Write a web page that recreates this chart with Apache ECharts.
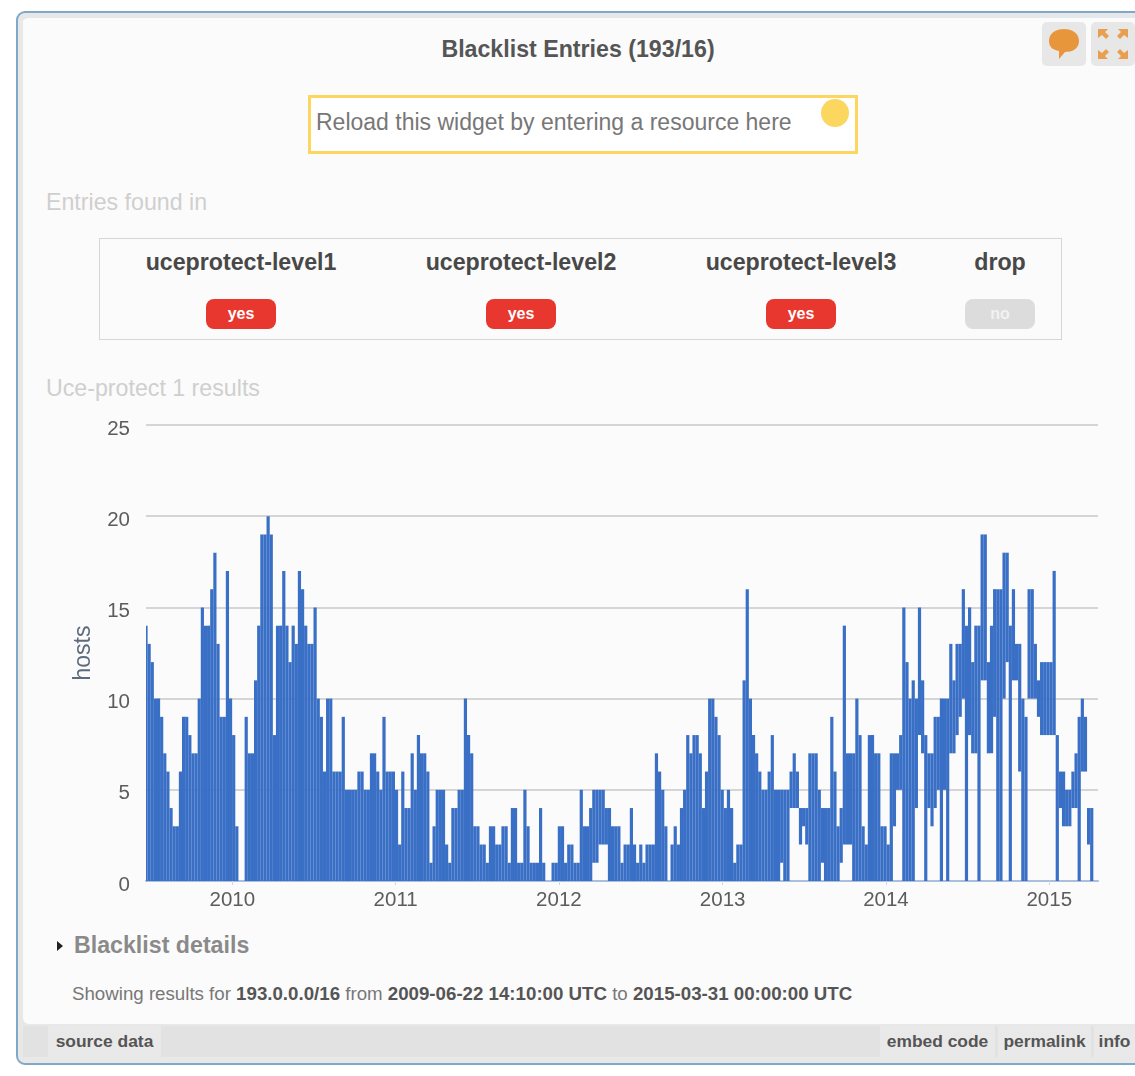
<!DOCTYPE html>
<html>
<head>
<meta charset="utf-8">
<title>Blacklist Entries</title>
<script src="https://cdn.jsdelivr.net/npm/echarts@6/dist/echarts.min.js"></script>
<style>
html, body { margin: 0; padding: 0; background: #fff; }
body { width: 1135px; height: 1076px; position: relative; overflow: hidden; font-family: "Liberation Sans", Arial, sans-serif; }
.abs { position: absolute; white-space: nowrap; line-height: 1; }
#frame { position: absolute; left: 16px; top: 11px; width: 1140px; height: 1050px; border: 2px solid #7fa9c6; border-radius: 9px; background: #e8e8e8; }
#panel { position: absolute; left: 23px; top: 15px; width: 1130px; height: 1006px; background: #fbfbfb; border-radius: 6px; border-top: 3px solid #e4e8ea; }
#footer { position: absolute; left: 23px; top: 1026px; width: 1130px; height: 31px; background: #e2e2e2; }
.btn { position: absolute; top: 1026px; height: 31px; background: #e9e9e9; color: #555; font-weight: bold; font-size: 17.4px; line-height: 31px; text-align: center; }
.iconbtn { position: absolute; top: 22px; height: 44px; background: #e7e7e7; border-radius: 5px; }
#input { position: absolute; left: 308px; top: 95px; width: 544px; height: 53px; border: 3px solid #fcd65f; background: #fff; }
#knob { position: absolute; left: 821px; top: 99px; width: 28px; height: 28px; border-radius: 50%; background: #fbd760; }
#tbl { position: absolute; left: 99px; top: 238px; width: 961px; height: 100px; border: 1.5px solid #d6d6d6; }
.name { font-size: 23.2px; font-weight: bold; color: #484848; transform: translateX(-50%); top: 251px; }
.badge { position: absolute; top: 299px; width: 70px; height: 30px; line-height: 29px; border-radius: 8px; text-align: center; font-weight: bold; font-size: 16px; color: #fff; transform: translateX(-50%); }
.muted { color: #cfcfcf; font-size: 23.2px; left: 46px; }
#chart { position: absolute; left: 0; top: 400px; width: 1135px; height: 520px; }
</style>
</head>
<body>
<div id="frame"></div>
<div id="panel"></div>
<div id="footer"></div>

<div class="abs" style="left:578px;top:38px;transform:translateX(-50%);font-size:23.2px;font-weight:bold;color:#555">Blacklist Entries (193/16)</div>

<div class="iconbtn" style="left:1042px;width:44px">
  <svg width="44" height="44"><path d="M7 19 C7 11 14 7 22 7 C30 7 37 11 37 19 C37 27 30 30 23 30 L17 37 L17 29 C11 28 7 25 7 19Z" fill="#e8963c"/></svg>
</div>
<div class="iconbtn" style="left:1091px;width:44px">
  <svg width="44" height="44" fill="#e8a050"><path d="M7 7h10l-3 3 4 4-3 3-4-4-4 3zM37 7h-10l3 3-4 4 3 3 4-4 4 3zM7 37h10l-3-3 4-4-3-3-4 4-4-3zM37 37h-10l3-3-4-4 3-3 4 4 4-3z"/></svg>
</div>

<div id="input"></div>
<div id="knob"></div>
<div class="abs" style="left:316px;top:111px;font-size:23px;color:#777">Reload this widget by entering a resource here</div>

<div class="abs muted" style="top:191px">Entries found in</div>
<div id="tbl"></div>
<div class="abs name" style="left:241px">uceprotect-level1</div>
<div class="abs name" style="left:521px">uceprotect-level2</div>
<div class="abs name" style="left:801px">uceprotect-level3</div>
<div class="abs name" style="left:1000px">drop</div>
<div class="badge" style="left:241px;background:#e8372e">yes</div>
<div class="badge" style="left:521px;background:#e8372e">yes</div>
<div class="badge" style="left:801px;background:#e8372e">yes</div>
<div class="badge" style="left:1000px;background:#dcdcdc;color:#f2f2f2">no</div>

<div class="abs muted" style="top:377px">Uce-protect 1 results</div>

<div id="chart"></div>

<div class="abs" style="left:57px;top:941px;width:0;height:0;border-left:6px solid #222;border-top:5px solid transparent;border-bottom:5px solid transparent"></div>
<div class="abs" style="left:74px;top:934px;font-size:23.2px;font-weight:bold;color:#8a8a8a">Blacklist details</div>
<div class="abs" style="left:72px;top:985px;font-size:18.7px;color:#777">Showing results for <b style="color:#555">193.0.0.0/16</b> from <b style="color:#555">2009-06-22 14:10:00 UTC</b> to <b style="color:#555">2015-03-31 00:00:00 UTC</b></div>

<div class="btn" style="left:48px;width:113px">source data</div>
<div class="btn" style="left:880px;width:115px">embed code</div>
<div class="btn" style="left:998px;width:93px">permalink</div>
<div class="btn" style="left:1094px;width:41px">info</div>

<script>
// weekly samples: top of each week's range and its bottom
const firstWeek = "2009-06-22";
const axisStart = "2009-06-22";
const axisEnd = "2015-04-20";
const yearTicks = ["2010-01-01", "2011-01-01", "2012-01-01", "2013-01-01", "2014-01-01", "2015-01-01"];

const highs = [
    14, 13, 12, 10, 10, 9, 7, 6, 4, 3, 3, 6, 9, 9, 8, 7, 7, 10, 15, 14,
    14, 16, 18, 13, 9, 9, 17, 10, 8, 3, 0, 0, 9, 7, 7, 11, 14, 19, 19, 20,
    19, 8, 14, 14, 17, 14, 12, 14, 13, 17, 16, 14, 13, 13, 15, 10, 9, 6, 10, 10,
    6, 6, 6, 9, 5, 5, 5, 5, 6, 6, 5, 5, 7, 7, 6, 5, 9, 6, 6, 6,
    5, 2, 6, 4, 4, 7, 5, 8, 7, 7, 6, 1, 3, 5, 5, 5, 2, 1, 4, 4,
    5, 5, 10, 8, 7, 3, 3, 2, 2, 1, 3, 3, 2, 2, 3, 3, 1, 4, 4, 1,
    1, 5, 3, 1, 1, 1, 4, 1, 0, 0, 1, 1, 3, 3, 1, 2, 2, 1, 1, 5,
    3, 3, 4, 5, 5, 5, 5, 4, 4, 3, 3, 3, 1, 2, 2, 4, 2, 1, 2, 1,
    2, 2, 2, 7, 6, 5, 3, 0, 2, 3, 2, 4, 5, 8, 7, 8, 8, 7, 4, 6,
    10, 10, 9, 8, 5, 4, 5, 4, 1, 2, 2, 11, 16, 10, 8, 7, 6, 5, 5, 6,
    8, 5, 5, 5, 5, 5, 6, 7, 6, 4, 4, 4, 7, 7, 7, 5, 4, 4, 4,
    9, 6, 3, 4, 14, 7, 7, 7, 10, 8, 3, 2, 8, 8, 7, 7, 3, 3, 2, 7,
    7, 7, 8, 15, 12, 10, 11, 10, 15, 11, 8, 7, 7, 9, 9, 10, 10, 10, 13, 11,
    13, 13, 16, 14, 15, 12, 14, 14, 19, 19, 12, 14, 16, 16, 16, 18, 18, 14, 16, 13,
    13, 10, 9, 16, 16, 13, 11, 12, 12, 12, 12, 17, 8, 6, 6, 5, 5, 6, 7, 9,
    10, 9, 4, 4
];
const lows = [
    0, 0, 0, 0, 0, 0, 0, 0, 0, 0, 0, 0, 0, 0, 0, 0, 0, 0, 0, 0,
    0, 0, 0, 0, 0, 0, 0, 0, 0, 0, 0, 0, 0, 0, 0, 0, 0, 0, 0, 0,
    0, 0, 0, 0, 0, 0, 0, 0, 0, 0, 0, 0, 0, 0, 0, 0, 0, 0, 0, 0,
    0, 0, 0, 0, 0, 0, 0, 0, 0, 0, 0, 0, 0, 0, 0, 0, 0, 0, 0, 0,
    0, 0, 0, 0, 0, 0, 0, 0, 0, 0, 0, 0, 0, 0, 0, 0, 0, 0, 0, 0,
    0, 0, 0, 0, 0, 0, 0, 0, 0, 0, 0, 0, 0, 0, 0, 0, 0, 0, 0, 0,
    0, 0, 0, 0, 0, 0, 0, 0, 0, 0, 0, 0, 0, 0, 0, 0, 0, 0, 0, 0,
    0, 0, 0, 1, 1, 2, 2, 2, 0, 0, 0, 0, 0, 0, 0, 0, 0, 0, 0, 0,
    0, 0, 0, 0, 0, 0, 0, 0, 0, 0, 0, 0, 0, 0, 0, 0, 0, 0, 0, 0,
    0, 0, 0, 0, 0, 0, 0, 0, 0, 0, 0, 0, 0, 0, 0, 0, 0, 0, 0, 0,
    0, 0, 0, 1, 0, 0, 4, 4, 4, 2, 3, 2, 0, 0, 0, 0, 1, 0, 0,
    0, 0, 0, 1, 2, 2, 2, 0, 0, 0, 0, 0, 0, 0, 0, 0, 0, 0, 0, 0,
    3, 5, 5, 0, 0, 0, 0, 4, 8, 7, 0, 4, 3, 4, 5, 0, 5, 0, 7, 7,
    8, 9, 10, 0, 8, 7, 7, 0, 11, 11, 7, 7, 9, 0, 0, 10, 12, 0, 11, 11,
    6, 0, 0, 10, 10, 10, 9, 8, 8, 8, 8, 8, 0, 4, 3, 3, 3, 4, 4, 0,
    6, 6, 2, 0
];

const weekMs = 7 * 24 * 3600 * 1000;
const t0 = Date.parse(firstWeek);
const yearValues = yearTicks.map((d) => Date.parse(d));

// one thin block per week, from its low to its high
function renderWeek(params, api) {
    const top = api.coord([api.value(0), api.value(2)]);
    const bottom = api.coord([api.value(0), api.value(1)]);
    return {
        type: "rect",
        shape: { x: top[0] - 1.6, y: top[1], width: 3.2, height: bottom[1] - top[1] },
        style: { fill: "#3a6fc6" },
    };
}

const chart = echarts.init(document.getElementById("chart"));
chart.setOption({
    animation: false,
    grid: { left: 146, top: 25, width: 952, height: 456 },
    xAxis: {
        type: "value",
        min: Date.parse(axisStart),
        max: Date.parse(axisEnd),
        axisLine: { lineStyle: { color: "#a9bfdc", width: 2 } },
        axisTick: { show: true, length: 4, lineStyle: { color: "#cfd8e6" }, customValues: yearValues },
        splitLine: { show: false },
        axisLabel: {
            color: "#5c5c5c",
            fontSize: 20.5,
            fontFamily: "Liberation Sans",
            margin: 9,
            customValues: yearValues,
            formatter: (v) => String(new Date(v).getUTCFullYear()),
        },
    },
    yAxis: {
        type: "value",
        min: 0,
        max: 25,
        interval: 5,
        name: "hosts",
        nameLocation: "middle",
        nameGap: 51,
        nameRotate: 90,
        nameTextStyle: { color: "#5e6b7d", fontSize: 23, fontFamily: "Liberation Sans" },
        axisLine: { show: false },
        axisTick: { show: false },
        axisLabel: { color: "#5c5c5c", fontSize: 20.5, fontFamily: "Liberation Sans", margin: 16, verticalAlign: "top", lineHeight: 8 },
        splitLine: { lineStyle: { color: "#c8c8c8", width: 1.5 } },
    },
    series: [
        {
            type: "custom",
            renderItem: renderWeek,
            clip: true,
            encode: { x: 0, y: [1, 2] },
            data: highs.map((h, i) => [t0 + i * weekMs, lows[i], h]),
        },
    ],
});
</script>
</body>
</html>
